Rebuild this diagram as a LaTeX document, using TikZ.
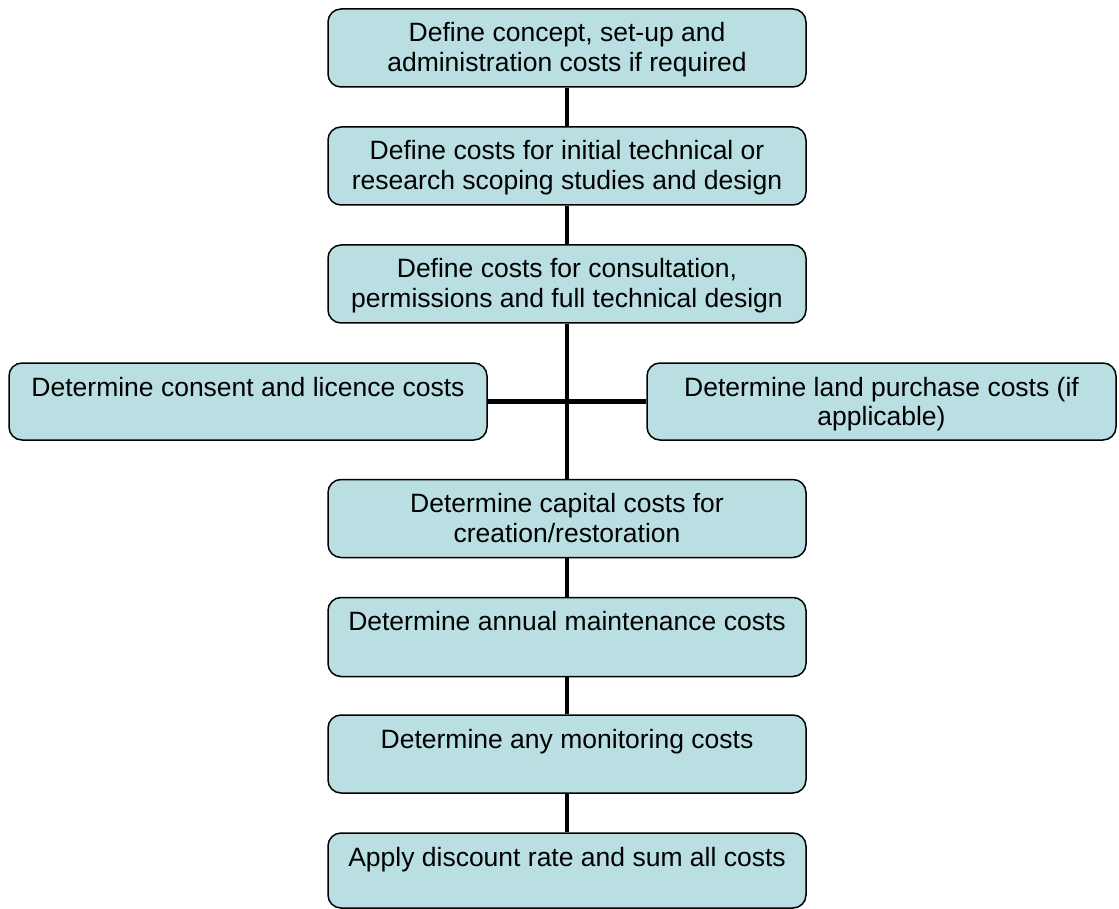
\documentclass[tikz,border=0pt]{standalone}
\usepackage{fontspec}
\setmainfont{Liberation Sans}
\definecolor{boxfill}{HTML}{B9DFE3}
\newcommand{\bxtext}[3]{\parbox[c][#2][t]{#1}{\centering\rule{0pt}{33pt}#3}}
\tikzset{
  stepbox/.style={draw=black, line width=1.5pt, fill=boxfill, rounded corners=13pt,
    inner sep=0pt, font=\fontsize{26.5}{29.5}\selectfont},
  link/.style={draw=black, line width=4.7pt}
}
\begin{document}
\begin{tikzpicture}[x=1pt,y=1pt]
\useasboundingbox (0,0) rectangle (1119,-909);
\node[stepbox] (b1) at (567,-48) {\bxtext{478pt}{78pt}{Define concept, set-up and\\administration costs if required}};
\node[stepbox] (b2) at (567,-166) {\bxtext{478pt}{78pt}{Define costs for initial technical or\\research scoping studies and design}};
\node[stepbox] (b3) at (567,-284) {\bxtext{478pt}{78pt}{Define costs for consultation,\\permissions and full technical design}};
\node[stepbox] (lft) at (248,-401.5) {\bxtext{478pt}{77pt}{Determine consent and licence costs}};
\node[stepbox] (rgt) at (881.5,-401.5) {\bxtext{469pt}{77pt}{Determine land purchase costs (if\\applicable)}};
\node[stepbox] (b4) at (567,-518.5) {\bxtext{478pt}{78pt}{Determine capital costs for\\creation/restoration}};
\node[stepbox] (b5) at (567,-637) {\bxtext{478pt}{79pt}{Determine annual maintenance costs}};
\node[stepbox] (b6) at (567,-754) {\bxtext{478pt}{78pt}{Determine any monitoring costs}};
\node[stepbox] (b7) at (567,-870.5) {\bxtext{478pt}{75pt}{Apply discount rate and sum all costs}};
\draw[link] (b1.south) -- (b2.north);
\draw[link] (b2.south) -- (b3.north);
\draw[link] (b3.south) -- (b4.north);
\draw[link] (lft.east) -- (rgt.west);
\draw[link] (b4.south) -- (b5.north);
\draw[link] (b5.south) -- (b6.north);
\draw[link] (b6.south) -- (b7.north);
\end{tikzpicture}
\end{document}
